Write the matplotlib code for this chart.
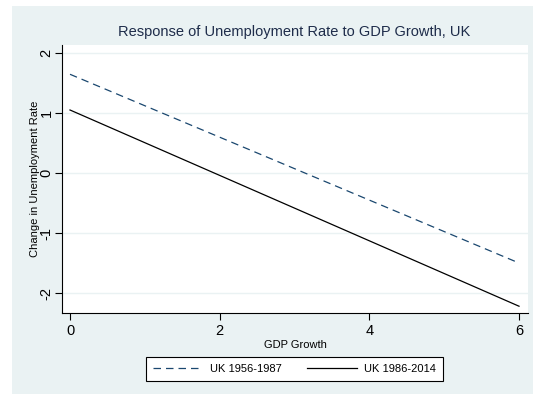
import matplotlib.pyplot as plt
from matplotlib.patches import Rectangle

# fitted lines: change in unemployment vs GDP growth
gdp_growth = [0, 6]
uk_1956_1987 = [1.645, -1.50]
uk_1986_2014 = [1.05, -2.22]

x_ticks = [0, 2, 4, 6]
y_ticks = [-2, -1, 0, 1, 2]

bg = '#EAF2F3'
navy = '#1A476F'
title_col = '#1E2C4A'

plt.rcParams['font.family'] = ['Liberation Sans', 'DejaVu Sans']

fig = plt.figure(figsize=(5.35, 3.94), dpi=100)
fig.patch.set_facecolor('white')
# stata-style graph region
fig.patches.append(Rectangle((12 / 535, 0), 521 / 535, 388 / 394,
                             transform=fig.transFigure, facecolor=bg,
                             edgecolor='none', zorder=-1))

ax = fig.add_axes([62 / 535, 81 / 394, 466 / 535, 268 / 394])
ax.set_facecolor('white')

ax.plot(gdp_growth, uk_1956_1987, color=navy, lw=0.9, dashes=(6, 4),
        label='UK 1956-1987')
ax.plot(gdp_growth, uk_1986_2014, color='black', lw=0.9,
        label='UK 1986-2014')

ax.set_xlim(-0.107, 6.12)
ax.set_ylim(-2.333, 2.133)
ax.set_xticks(x_ticks)
ax.set_yticks(y_ticks)
ax.set_yticklabels([str(t) for t in y_ticks], rotation=90, va='center')
ax.tick_params(direction='out', length=5, width=0.8, labelsize=10.5, pad=3)
ax.tick_params(axis='y', pad=1)
ax.grid(axis='y', color=bg, lw=1)
ax.set_axisbelow(True)

for s in ['top', 'right']:
    ax.spines[s].set_visible(False)
for s in ['left', 'bottom']:
    ax.spines[s].set_linewidth(0.8)

ax.set_xlabel('GDP Growth', fontsize=8, labelpad=1)
ax.set_ylabel('Change in Unemployment Rate', fontsize=8, labelpad=0)
fig.text(294 / 535, 1 - 32 / 394, 'Response of Unemployment Rate to GDP Growth, UK',
         ha='center', va='center', fontsize=10.5, color=title_col)

leg = fig.legend(loc='center', bbox_to_anchor=(294.5 / 535, 1 - 369 / 394),
                 ncol=2, fontsize=8, frameon=True, fancybox=False,
                 handlelength=4.5, handletextpad=0.7, columnspacing=2.2,
                 borderpad=0.6, framealpha=1)
leg.get_frame().set_facecolor('white')
leg.get_frame().set_edgecolor('black')
leg.get_frame().set_linewidth(0.8)

fig.savefig('out.png', dpi=100, facecolor=fig.get_facecolor())
